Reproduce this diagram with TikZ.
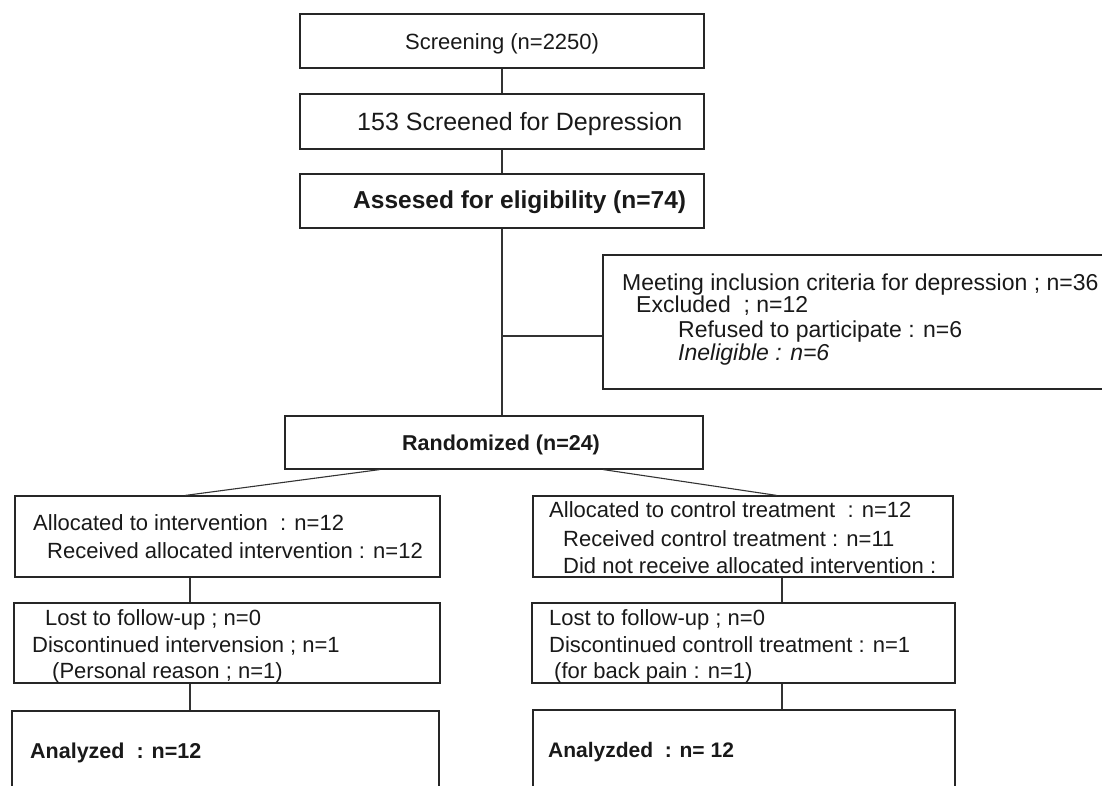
\documentclass[tikz,border=0pt]{standalone}
\usepackage{fontspec}
\setmainfont{Liberation Sans}
\begin{document}
\begin{tikzpicture}[x=1pt,y=-1pt,
  box/.style={draw=black!85, line width=1.1pt, inner sep=0pt},
  txt/.style={inner sep=0pt, anchor=base west, text=black!90},
  fs/.style={font=\fontsize{#1}{#1}\selectfont},
  fsb/.style={font=\fontsize{#1}{#1}\selectfont\bfseries},
  link/.style={draw=black!80, line width=1.1pt}]
\path[use as bounding box] (0,0) rectangle (1102,785);
\clip (0,0) rectangle (1102,785);

% boxes
\node[box, minimum width=404, minimum height=54] (scr) at (502,41) {};
\node[box, minimum width=404, minimum height=55] (s153) at (502,121.5) {};
\node[box, minimum width=404, minimum height=54] (ass) at (502,201) {};
\node[box, minimum width=507, minimum height=134] (excl) at (856.5,322) {};
\node[box, minimum width=418, minimum height=53] (rnd) at (494,442.5) {};
\node[box, minimum width=425, minimum height=81] (L1) at (227.5,536.5) {};
\node[box, minimum width=420, minimum height=81] (R1) at (743,536.5) {};
\node[box, minimum width=426, minimum height=80] (L2) at (227,643) {};
\node[box, minimum width=423, minimum height=80] (R2) at (743.5,643) {};
\node[box, minimum width=427, minimum height=89] (L3) at (225.5,755.5) {};
\node[box, minimum width=422, minimum height=90] (R3) at (744,755) {};

% texts
\node[txt, fs=22] (t1) at (405,49) {Screening (n=2250)};
\node[txt, fs=25] (t2) at (357,130) {153 Screened for Depression};
\node[txt, fsb=24.5] (t3) at (353,208) {Assesed for eligibility (n=74)};
\node[txt, fs=23] (e1) at (622,290) {Meeting inclusion criteria for depression ; n=36};
\node[txt, fs=23] (e2) at (636,312) {Excluded~~; n=12};
\node[txt, fs=23] (e3) at (678,337) {Refused to participate : n=6};
\node[txt, fs=23] (e4) at (678,360) {\itshape Ineligible : n=6};
\node[txt, fsb=21.5] (t4) at (402,450) {Randomized (n=24)};
\node[txt, fs=22] (l1a) at (33,530) {Allocated to intervention~~: n=12};
\node[txt, fs=22] (l1b) at (47,558) {Received allocated intervention : n=12};
\node[txt, fs=22] (r1a) at (549,517) {Allocated to control treatment~~: n=12};
\node[txt, fs=22] (r1b) at (563,546) {Received control treatment : n=11};
\node[txt, fs=22] (r1c) at (563,573) {Did not receive allocated intervention :};
\node[txt, fs=22] (l2a) at (45,625) {Lost to follow-up ; n=0};
\node[txt, fs=22] (l2b) at (32,652) {Discontinued intervension ; n=1};
\node[txt, fs=22] (l2c) at (52,678) {(Personal reason ; n=1)};
\node[txt, fs=22] (r2a) at (549,625) {Lost to follow-up ; n=0};
\node[txt, fs=22] (r2b) at (549,652) {Discontinued controll treatment : n=1};
\node[txt, fs=22] (r2c) at (554,678) {(for back pain : n=1)};
\node[txt, fsb=21.5] (l3a) at (30,758) {Analyzed~~: n=12};
\node[txt, fsb=21] (r3a) at (548,757) {Analyzded~~: n= 12};

% connectors
\draw[link] (scr.south) -- (s153.north);
\draw[link] (s153.south) -- (ass.north);
\draw[link] (ass.south -| 502,0) -- (rnd.north -| 502,0);
\draw[link] (excl.west |- 0,336) -- (502,336);
\draw[link] (rnd.south -| 380,0) -- (L1.north -| 185,0);
\draw[link] (rnd.south -| 603,0) -- (R1.north -| 777,0);
\draw[link] (L1.south -| 190,0) -- (L2.north -| 190,0);
\draw[link] (L2.south -| 190,0) -- (L3.north -| 190,0);
\draw[link] (R1.south -| 782,0) -- (R2.north -| 782,0);
\draw[link] (R2.south -| 782,0) -- (R3.north -| 782,0);
\end{tikzpicture}
\end{document}
